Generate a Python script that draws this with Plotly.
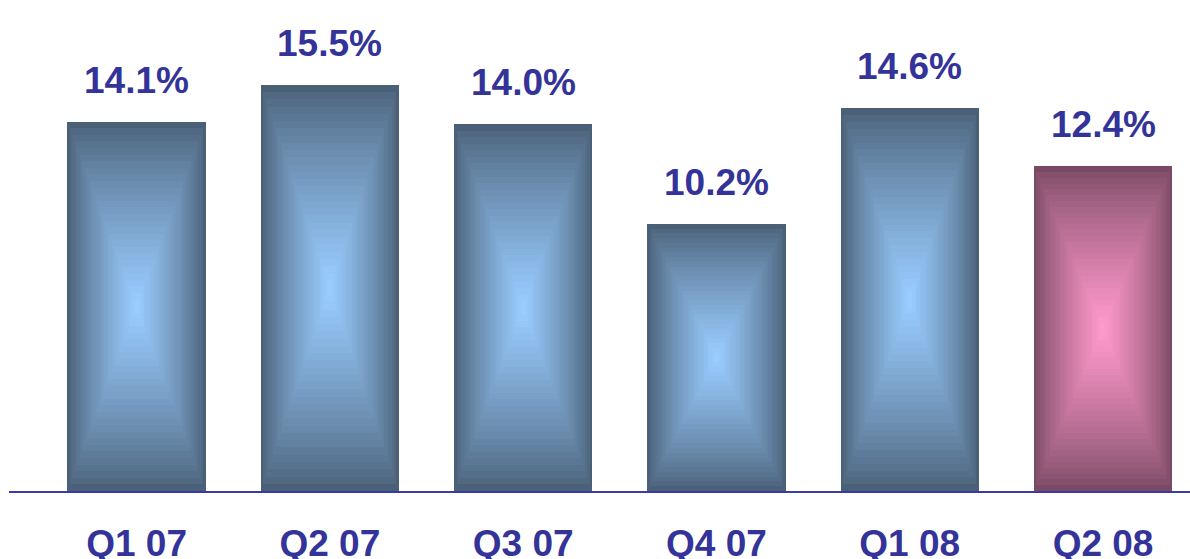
import plotly.graph_objects as go

# Quarterly values (%)
quarters = ["Q1 07", "Q2 07", "Q3 07", "Q4 07", "Q1 08", "Q2 08"]
values = [14.1, 15.5, 14.0, 10.2, 14.6, 12.4]
labels = ["14.1%", "15.5%", "14.0%", "10.2%", "14.6%", "12.4%"]
highlight = [False, False, False, False, False, True]

# Gradient endpoints (edge colour, centre colour)
BLUE_EDGE, BLUE_CENTRE = (74, 96, 119), (153, 204, 255)
PINK_EDGE, PINK_CENTRE = (122, 74, 100), (255, 153, 204)
TEXT_COLOR = "#333399"
FONT = "Liberation Sans, Arial, sans-serif"
BAR_WIDTH = 0.715
STEPS = 28


def mix(a, b, t):
    return "rgb({},{},{})".format(*[round(a[i] + (b[i] - a[i]) * t) for i in range(3)])


xs = list(range(len(quarters)))
fig = go.Figure()

# Rectangular (box) gradient: concentric bars shrinking toward each bar's centre
for k in range(STEPS):
    s = 1 - k / STEPS
    t = (k / (STEPS - 1)) ** 0.8
    colors = [mix(PINK_EDGE, PINK_CENTRE, t) if h else mix(BLUE_EDGE, BLUE_CENTRE, t)
              for h in highlight]
    fig.add_trace(go.Bar(
        x=xs,
        y=[v * s for v in values],
        base=[v * (1 - s) / 2 for v in values],
        width=[BAR_WIDTH * s] * len(xs),
        marker=dict(color=colors, line=dict(width=0)),
        hoverinfo="skip",
        showlegend=False,
    ))

# Value labels above bars
for x, v, lab in zip(xs, values, labels):
    fig.add_annotation(
        x=x, y=v, text="<b>%s</b>" % lab, showarrow=False,
        yanchor="bottom", yshift=19,
        font=dict(family=FONT, size=37, color=TEXT_COLOR),
    )

fig.update_layout(
    width=1190, height=559,
    margin=dict(l=9, r=0, t=0, b=68, autoexpand=False),
    paper_bgcolor="white", plot_bgcolor="white",
    barmode="overlay", bargap=0,
    xaxis=dict(
        range=[-0.66, 5.45],
        tickmode="array", tickvals=xs,
        ticktext=["<b>%s</b>" % q for q in quarters],
        tickfont=dict(family=FONT, size=37, color=TEXT_COLOR),
        showgrid=False, zeroline=False,
        showline=True, linecolor="#3a3aa8", linewidth=2,
        ticks="", ticklabelstandoff=19,
        automargin=False,
        fixedrange=True,
    ),
    yaxis=dict(
        range=[0, 18.74],
        visible=False, showgrid=False, zeroline=False,
        automargin=False,
        fixedrange=True,
    ),
)

fig.write_html("out.html")
